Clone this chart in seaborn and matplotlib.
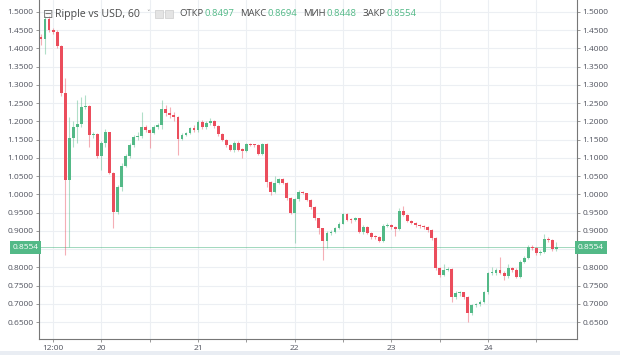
import numpy as np
import pandas as pd
import matplotlib
matplotlib.use('Agg')
import matplotlib.pyplot as plt
import matplotlib.patches as mpatches
import seaborn as sns

#hourly candles, xrp/usd, first candle 19th 09:00
first_open = 1.432
close = [1.425, 1.482, 1.451, 1.446, 1.407, 1.279, 1.039, 1.154, 1.184, 1.193,
         1.240, 1.243, 1.162, 1.165, 1.105, 1.140, 1.172, 1.058, 0.951, 1.019,
         1.079, 1.105, 1.135, 1.158, 1.160, 1.184, 1.176, 1.169, 1.186, 1.190,
         1.233, 1.224, 1.218, 1.211, 1.152, 1.163, 1.169, 1.181, 1.176, 1.199,
         1.185, 1.195, 1.200, 1.187, 1.165, 1.149, 1.135, 1.122, 1.142, 1.122,
         1.120, 1.138, 1.136, 1.134, 1.111, 1.138, 1.033, 1.007, 1.030, 1.041,
         1.032, 0.989, 0.950, 0.986, 1.007, 1.003, 0.985, 0.965, 0.934, 0.907,
         0.873, 0.895, 0.897, 0.907, 0.920, 0.946, 0.931, 0.929, 0.934, 0.898,
         0.910, 0.895, 0.884, 0.882, 0.873, 0.913, 0.917, 0.911, 0.905, 0.953,
         0.944, 0.928, 0.922, 0.915, 0.913, 0.911, 0.902, 0.879, 0.797, 0.779,
         0.793, 0.794, 0.718, 0.729, 0.731, 0.719, 0.674, 0.697, 0.699, 0.706,
         0.731, 0.783, 0.785, 0.793, 0.785, 0.776, 0.797, 0.793, 0.774, 0.815,
         0.825, 0.857, 0.852, 0.838, 0.843, 0.877, 0.875, 0.8497, 0.8554]
high = [1.440, 1.490, 1.488, 1.455, 1.452, 1.410, 1.320, 1.213, 1.200, 1.259,
        1.268, 1.272, 1.245, 1.170, 1.168, 1.145, 1.178, 1.172, 1.060, 1.025,
        1.085, 1.110, 1.140, 1.162, 1.170, 1.227, 1.190, 1.180, 1.190, 1.195,
        1.259, 1.245, 1.240, 1.225, 1.215, 1.168, 1.172, 1.185, 1.190, 1.205,
        1.203, 1.200, 1.210, 1.203, 1.190, 1.168, 1.152, 1.138, 1.146, 1.145,
        1.126, 1.142, 1.140, 1.139, 1.137, 1.142, 1.140, 1.036, 1.050, 1.046,
        1.044, 1.035, 0.992, 0.990, 1.012, 1.010, 1.005, 0.988, 0.968, 0.936,
        0.908, 0.900, 0.903, 0.910, 0.925, 0.950, 0.949, 0.934, 0.937, 0.936,
        0.915, 0.912, 0.897, 0.888, 0.885, 0.918, 0.921, 0.920, 0.913, 0.962,
        0.968, 0.946, 0.930, 0.924, 0.918, 0.916, 0.914, 0.905, 0.882, 0.800,
        0.808, 0.800, 0.797, 0.734, 0.735, 0.733, 0.722, 0.700, 0.703, 0.710,
        0.736, 0.788, 0.800, 0.798, 0.829, 0.790, 0.810, 0.800, 0.797, 0.820,
        0.830, 0.862, 0.860, 0.855, 0.847, 0.891, 0.882, 0.878, 0.8694]
low = [1.410, 1.385, 1.445, 1.440, 1.400, 1.270, 0.834, 0.857, 1.130, 1.140,
       1.185, 1.235, 1.130, 1.155, 1.100, 1.068, 1.130, 1.055, 0.907, 0.945,
       1.010, 1.075, 1.100, 1.130, 1.150, 1.155, 1.170, 1.126, 1.165, 1.180,
       1.180, 1.215, 1.210, 1.200, 1.108, 1.148, 1.160, 1.165, 1.170, 1.170,
       1.180, 1.180, 1.190, 1.183, 1.160, 1.145, 1.130, 1.118, 1.115, 1.118,
       1.100, 1.117, 1.132, 1.130, 1.108, 1.108, 1.020, 0.997, 1.004, 1.028,
       1.028, 0.985, 0.945, 0.866, 0.983, 1.000, 0.982, 0.960, 0.930, 0.890,
       0.820, 0.852, 0.888, 0.893, 0.905, 0.918, 0.926, 0.922, 0.926, 0.893,
       0.890, 0.890, 0.878, 0.877, 0.868, 0.870, 0.910, 0.906, 0.885, 0.902,
       0.940, 0.924, 0.918, 0.911, 0.909, 0.906, 0.898, 0.875, 0.792, 0.773,
       0.776, 0.789, 0.705, 0.712, 0.722, 0.714, 0.651, 0.668, 0.692, 0.694,
       0.703, 0.728, 0.778, 0.780, 0.781, 0.765, 0.772, 0.788, 0.770, 0.772,
       0.812, 0.822, 0.848, 0.834, 0.835, 0.840, 0.870, 0.846, 0.8448]

y_ticks = [0.65, 0.70, 0.75, 0.80, 0.85, 0.90, 0.95, 1.00, 1.05, 1.10, 1.15,
           1.20, 1.25, 1.30, 1.35, 1.40, 1.45, 1.50]
x_ticks = [-12, 0, 12, 24, 36, 48, 60, 72, 84, 96, 108]  # hours from the 20th
x_labels = ['12:00', '20', '', '21', '', '22', '', '23', '', '24', '']
last_price = 0.8554
last_open = 0.8497

df = pd.DataFrame({'close': close, 'high': high, 'low': low})
opens = [first_open] + close[:-1]
opens[-1] = last_open
df['open'] = opens
df['hour'] = np.arange(len(df)) - 15
df['up'] = df['close'] >= df['open']

up_col = '#53b987'
down_col = '#eb4d5c'
text_col = '#50535e'

sns.set_theme(style='white')
plt.rcParams['font.family'] = ['Open Sans', 'DejaVu Sans']

W, H = 620, 355
fig = plt.figure(figsize=(W / 100, H / 100), dpi=100)
ax = fig.add_axes([39 / W, 16 / H, 538 / W, 339 / H])

#grid
for yv in y_ticks:
    ax.axhline(yv, color='#eceff3', lw=0.8, zorder=0)
for xv in x_ticks:
    ax.axvline(xv, color='#eceff3', lw=0.8, zorder=0)

#wicks then bodies
cols = np.where(df['up'], up_col, down_col)
ax.vlines(df['hour'], df['low'], df['high'], colors=cols, lw=0.8, alpha=0.45, zorder=2)
body_bottom = np.minimum(df['open'], df['close'])
body_h = np.maximum(np.abs(df['close'] - df['open']), 0.003)
ax.bar(df['hour'], body_h, bottom=body_bottom, width=0.7, color=cols, lw=0, zorder=3)

#last price line
ax.axhline(last_price, color=up_col, lw=0.7, alpha=0.55, zorder=1)

ax.set_xlim(-15.5, 118.1)
ax.set_ylim(0.6034, 1.5329)
ax.set_yticks(y_ticks)
#the 0.8500 label sits under the price badge
ax.set_yticklabels(['' if abs(v - 0.85) < 1e-9 else f'{v:.4f}' for v in y_ticks])
ax.set_xticks(x_ticks)
ax.set_xticklabels(x_labels)
ax.tick_params(axis='y', which='both', left=True, right=True, labelleft=True, labelright=True,
               length=2.5, width=0.6, color='#888888', labelsize=6, labelcolor=text_col, pad=1.5)
ax.tick_params(axis='x', bottom=True, length=2.5, width=0.6, color='#888888',
               labelsize=6, labelcolor=text_col, pad=2)
for s in ['left', 'right', 'bottom']:
    ax.spines[s].set_color('#777777')
    ax.spines[s].set_linewidth(0.8)
ax.spines['top'].set_visible(False)

#price badges on both axes
for xpos, ha in [(-0.001, 'right'), (1.002, 'left')]:
    ax.text(xpos, last_price, f'{last_price:.4f}', transform=ax.get_yaxis_transform(),
            ha=ha, va='center', fontsize=6, color='white', clip_on=False, zorder=6,
            bbox=dict(boxstyle='square,pad=0.35', fc=up_col, ec='none'))

#header
def fx(x):
    return x / W

def fy(y):
    return 1 - y / H

fig.text(fx(43), fy(14), '\u229f', fontsize=9, color='#777777', va='center', family='DejaVu Sans')
fig.text(fx(55), fy(14), 'Ripple vs USD, 60', fontsize=7.6, color='#4a4a4a', va='center')
fig.text(fx(146), fy(13), '\u02c5', fontsize=5, color='#888888', va='center', family='DejaVu Sans')
for xx in [155, 165]:
    fig.patches.append(mpatches.Rectangle((fx(xx), fy(18)), 8 / W, 8 / H, transform=fig.transFigure,
                                          fc='#e4e4e4', ec='#cccccc', lw=0.5))
hx = 179
for lab, val in [('ОТКР', '0.8497'), ('МАКС', '0.8694'), ('МИН', '0.8448'), ('ЗАКР', '0.8554')]:
    t = fig.text(fx(hx), fy(14), lab, fontsize=6.8, color='#4a4a4a', va='center')
    fig.canvas.draw()
    bb = t.get_window_extent()
    t2 = fig.text(fx(bb.x1 + 1), fy(14), val, fontsize=6.8, color=up_col, va='center')
    fig.canvas.draw()
    hx = t2.get_window_extent().x1 + 6

#bottom strip
fig.patches.append(mpatches.Rectangle((0, 0), 1, 4 / H, transform=fig.transFigure,
                                      fc='#e9edf3', ec='none'))

fig.savefig('out.png', dpi=100)
